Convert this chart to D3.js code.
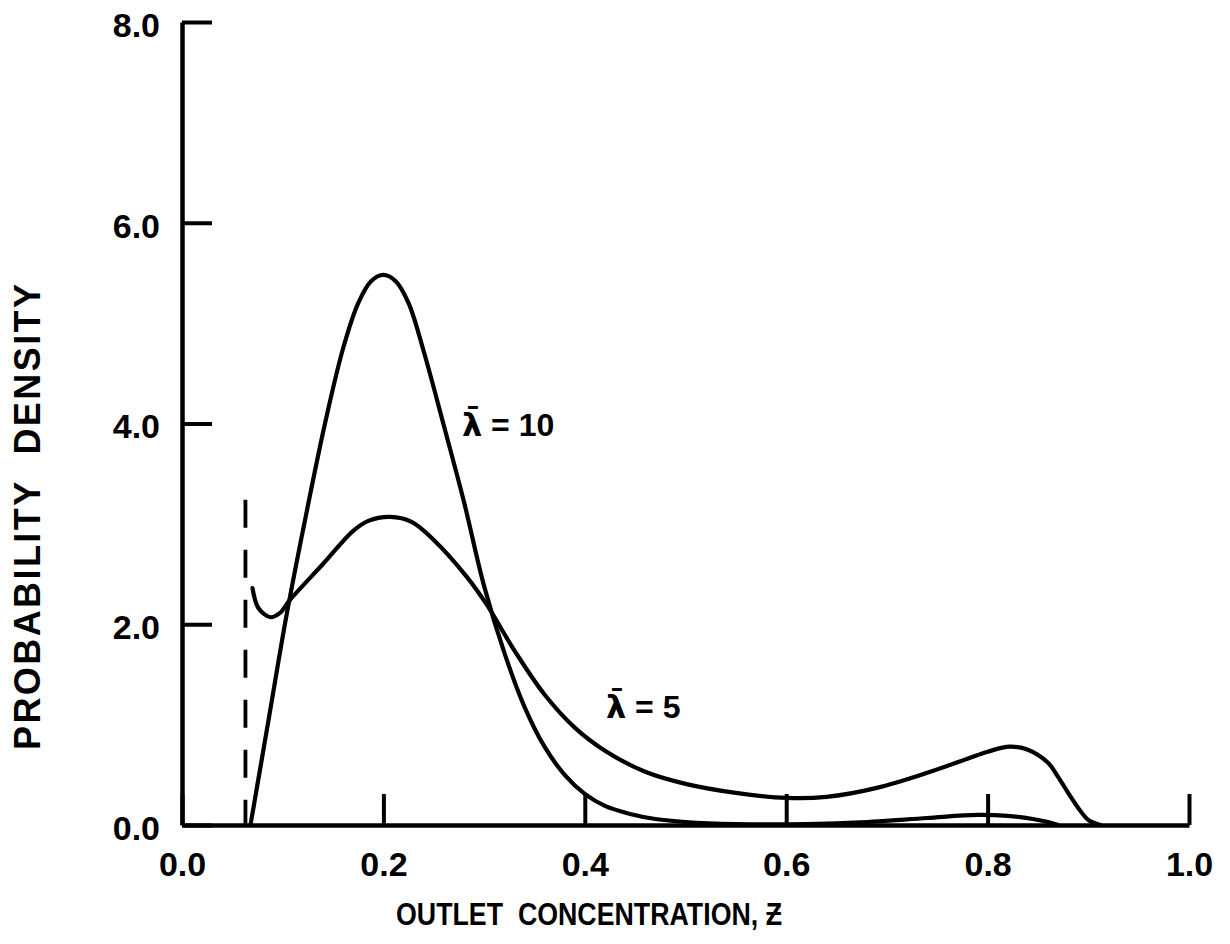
<html>
  <head>
    <script src="https://cdn.jsdelivr.net/npm/d3@7/dist/d3.min.js" charset="UTF-8"></script>

    <style type="text/css">

    body {
      margin: 0;
      background: white;
    }

    .axis path.domain {
      stroke: black;
      stroke-width: 4.5;
      fill: none;
    }

    .axis line {
      stroke: black;
      stroke-width: 4;
    }

    .axis text {
      font-family: "Liberation Sans", Arial, sans-serif;
      font-weight: bold;
      font-size: 34px;
      fill: black;
    }

    path.curve {
      stroke: black;
      stroke-width: 4.2;
      fill: none;
      stroke-linejoin: round;
      stroke-linecap: round;
    }

    line.limit {
      stroke: black;
      stroke-width: 3.8;
      stroke-dasharray: 28, 22;
    }

    text.title {
      font-family: "Liberation Sans", Arial, sans-serif;
      font-weight: bold;
      fill: black;
    }

    text.label {
      font-family: "Liberation Sans", Arial, sans-serif;
      font-weight: bold;
      font-size: 32px;
      fill: black;
    }

    text.label tspan.sym {
      font-family: "DejaVu Sans", sans-serif;
    }

    </style>
  </head>
  <body>

    <script type="text/javascript">

      /* chart values */
      var xTicks = [0.0, 0.2, 0.4, 0.6, 0.8, 1.0];
      var yTicks = [0.0, 2.0, 4.0, 6.0, 8.0];

      var lambda10Z = [0.068, 0.086, 0.104, 0.123, 0.142, 0.160, 0.175, 0.188, 0.200, 0.212, 0.225, 0.240,
                       0.260, 0.280, 0.300, 0.320, 0.340, 0.360, 0.380, 0.400, 0.420, 0.445, 0.470, 0.500,
                       0.550, 0.620, 0.680, 0.740, 0.790, 0.820, 0.845, 0.860, 0.870];
      var lambda10P = [0.00, 1.05, 2.10, 3.08, 4.00, 4.75, 5.20, 5.42, 5.48, 5.42, 5.20, 4.72,
                       3.98, 3.22, 2.38, 1.72, 1.18, 0.78, 0.50, 0.31, 0.19, 0.11, 0.06, 0.03,
                       0.01, 0.01, 0.03, 0.07, 0.10, 0.09, 0.06, 0.03, 0.00];

      var lambda5Z = [0.070, 0.076, 0.088, 0.097, 0.107, 0.140, 0.170, 0.185, 0.207, 0.228, 0.250, 0.283,
                      0.303, 0.330, 0.360, 0.390, 0.420, 0.460, 0.500, 0.550, 0.600, 0.640, 0.690, 0.740,
                      0.780, 0.800, 0.822, 0.840, 0.860, 0.870, 0.880, 0.890, 0.900, 0.912];
      var lambda5P = [2.36, 2.16, 2.07, 2.11, 2.24, 2.60, 2.93, 3.03, 3.07, 3.02, 2.84, 2.47,
                      2.19, 1.74, 1.30, 0.97, 0.74, 0.53, 0.41, 0.32, 0.27, 0.28, 0.37, 0.52,
                      0.66, 0.73, 0.78, 0.75, 0.62, 0.48, 0.32, 0.17, 0.05, 0.00];

      var limitZ = 0.063;
      var limitTop = 3.24;

      var seriesNames = ["10", "5"];

      var width = 1230;
      var height = 944;

      var svg = d3.select("body").append("svg")
        .attr("width", width)
        .attr("height", height);

      var x = d3.scaleLinear().domain([0, 1]).range([182, 1189]);
      var y = d3.scaleLinear().domain([0, 8]).range([825, 22]);

      /* Draw y-axis, ticks pointing inward */
      svg.append("g")
        .attr("class", "axis")
        .attr("transform", "translate(" + x(0) + ",0)")
        .call(d3.axisLeft(y)
          .tickValues(yTicks)
          .tickSizeInner(-30)
          .tickSizeOuter(0)
          .tickPadding(22)
          .tickFormat(d3.format(".1f")))
        .selectAll("text")
        .attr("dy", "0.42em");

      /* Draw x-axis */
      svg.append("g")
        .attr("class", "axis")
        .attr("transform", "translate(0," + y(0) + ")")
        .call(d3.axisBottom(x)
          .tickValues(xTicks)
          .tickSizeInner(-31)
          .tickSizeOuter(0)
          .tickPadding(27)
          .tickFormat(d3.format(".1f")));

      /* Dashed lower limit */
      svg.append("line")
        .attr("class", "limit")
        .attr("x1", x(limitZ))
        .attr("y1", y(limitTop))
        .attr("x2", x(limitZ))
        .attr("y2", y(0));

      /* Draw curves */
      var line = d3.line()
        .x(function(d) { return x(d[0]); })
        .y(function(d) { return y(d[1]); })
        .curve(d3.curveCatmullRom.alpha(0.5));

      svg.append("path")
        .attr("class", "curve")
        .attr("d", line(d3.zip(lambda10Z, lambda10P)));

      svg.append("path")
        .attr("class", "curve")
        .attr("d", line(d3.zip(lambda5Z, lambda5P)));

      /* Curve captions */
      var captionPos = [[0.278, 3.88], [0.421, 1.07]];

      var captions = svg.selectAll("text.label")
        .data(seriesNames)
        .enter()
        .append("text")
        .attr("class", "label")
        .attr("x", function(d, i) { return x(captionPos[i][0]); })
        .attr("y", function(d, i) { return y(captionPos[i][1]); });

      captions.append("tspan")
        .attr("class", "sym")
        .text("\u03BB\u0304");

      captions.append("tspan")
        .text(function(d) { return " = " + d; });

      /* Axis titles */
      svg.append("text")
        .attr("class", "title")
        .attr("x", 396)
        .attr("y", 925)
        .attr("font-size", 32)
        .attr("textLength", 386)
        .attr("lengthAdjust", "spacingAndGlyphs")
        .text("OUTLET\u00A0\u00A0CONCENTRATION,\u00A0\u01B5");

      svg.append("text")
        .attr("class", "title")
        .attr("transform", "translate(40,750) rotate(-90)")
        .attr("font-size", 36)
        .attr("textLength", 466)
        .attr("lengthAdjust", "spacing")
        .text("PROBABILITY\u00A0\u00A0DENSITY");

    </script>
  </body>
</html>
